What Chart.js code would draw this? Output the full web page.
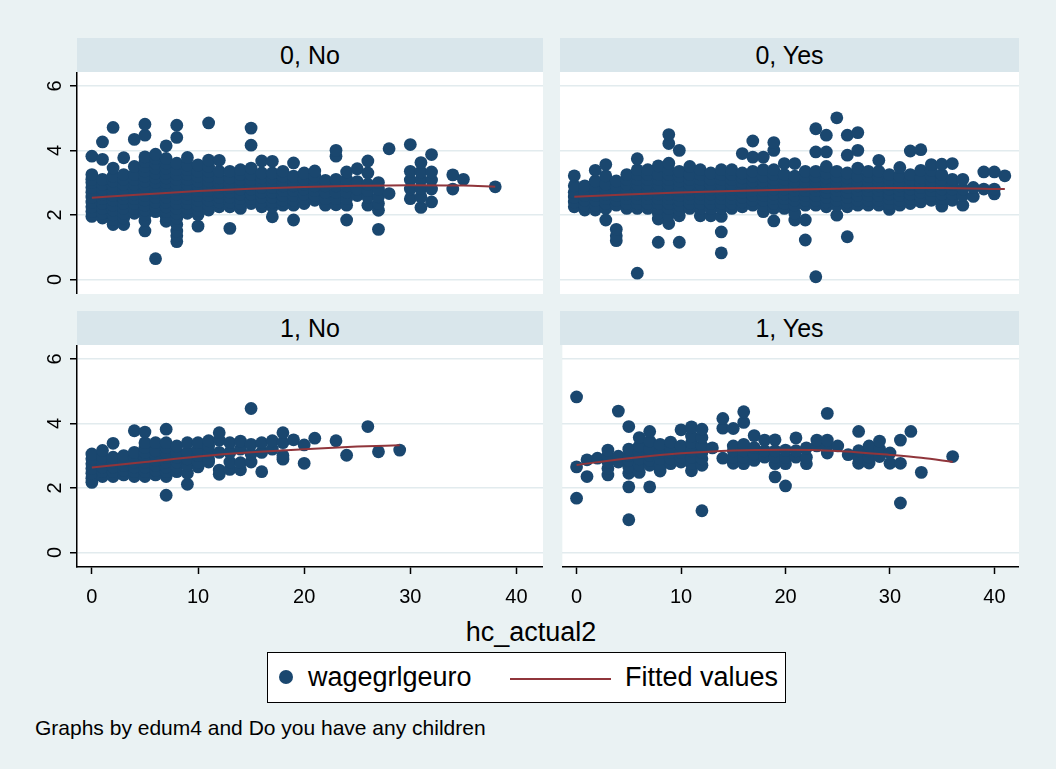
<!DOCTYPE html>
<html><head><meta charset="utf-8">
<script src="https://cdn.jsdelivr.net/npm/chart.js@4.4.1/dist/chart.umd.min.js"></script>
<style>
html,body{margin:0;padding:0;}
body{width:1056px;height:769px;background:#EAF2F3;position:relative;overflow:hidden;font-family:"Liberation Sans",Arial,sans-serif;color:#000;}
.hdr{position:absolute;background:#D9E6EB;height:34px;line-height:34px;text-align:center;font-size:25px;}
.cv{position:absolute;}
#xtitle{position:absolute;left:331px;width:400px;top:614px;text-align:center;font-size:27px;line-height:36px;}
#legend{position:absolute;left:267px;top:652px;width:517px;height:49px;background:#fff;border:1px solid #000;font-size:27px;}
#legend .dot{position:absolute;left:11px;top:17px;width:14px;height:14px;border-radius:50%;background:#1A476F;}
#legend .t1{position:absolute;left:40px;top:9px;line-height:30px;}
#legend .ln{position:absolute;left:242px;top:25px;width:101px;height:2px;background:#90353B;}
#legend .t2{position:absolute;left:357px;top:9px;line-height:30px;}
#note{position:absolute;left:35px;top:715px;font-size:21px;line-height:26px;}
</style>
</head><body>
<div class="hdr" style="left:77px;top:38px;width:466px;">0, No</div>
<div class="hdr" style="left:560px;top:38px;width:459px;">0, Yes</div>
<div class="hdr" style="left:77px;top:311px;width:466px;">1, No</div>
<div class="hdr" style="left:560px;top:311px;width:459px;">1, Yes</div>
<canvas id="c00" class="cv" width="543" height="222" style="left:0;top:72px;"></canvas>
<canvas id="c01" class="cv" width="459" height="222" style="left:560px;top:72px;"></canvas>
<canvas id="c10" class="cv" width="543" height="267" style="left:0;top:345px;"></canvas>
<canvas id="c11" class="cv" width="459" height="267" style="left:560px;top:345px;"></canvas>
<div id="xtitle">hc_actual2</div>
<div id="legend"><div class="dot"></div><div class="t1">wagegrlgeuro</div><div class="ln"></div><div class="t2">Fitted values</div></div>
<div id="note">Graphs by edum4 and Do you have any children</div>
<script>
// Tick values
const yTicks = [0, 2, 4, 6];
const xTicks = [0, 10, 20, 30, 40];
const panelTitles = ["0, No", "0, Yes", "1, No", "1, Yes"];
const legendLabels = ["wagegrlgeuro", "Fitted values"];

// Scatter data: each row = [hc_actual2, wagegrlgeuro values...]
const edu0No = [
 [0,1.95,2.1,2.25,2.4,2.55,2.7,2.85,3.0,3.1,3.25,3.82],
 [1,1.9,2.05,2.2,2.35,2.5,2.65,2.8,2.95,3.1,3.72,4.26],
 [2,1.7,1.85,2.0,2.15,2.3,2.45,2.6,2.75,2.9,3.05,3.2,3.45,4.71],
 [3,1.7,1.9,2.05,2.2,2.35,2.5,2.65,2.8,2.95,3.1,3.25,3.77],
 [4,2.05,2.2,2.35,2.5,2.65,2.8,2.95,3.1,3.25,3.5,4.34],
 [5,1.5,1.82,2.0,2.15,2.3,2.45,2.6,2.75,2.9,3.05,3.2,3.35,3.5,3.65,3.8,4.47,4.81],
 [6,0.64,2.1,2.25,2.4,2.55,2.7,2.85,3.0,3.15,3.3,3.45,3.6,3.75,3.88],
 [7,1.8,1.95,2.1,2.25,2.4,2.55,2.7,2.85,3.0,3.15,3.3,3.45,3.6,3.75,4.14],
 [8,1.17,1.35,1.5,1.7,1.9,2.05,2.2,2.35,2.5,2.65,2.8,2.95,3.1,3.25,3.4,3.6,4.4,4.78],
 [9,2.05,2.2,2.35,2.5,2.65,2.8,2.95,3.1,3.25,3.4,3.55,3.78],
 [10,1.65,2.0,2.15,2.3,2.45,2.6,2.75,2.9,3.05,3.2,3.35,3.55],
 [11,2.15,2.3,2.45,2.6,2.75,2.9,3.05,3.2,3.35,3.5,3.7,4.85],
 [12,2.25,2.4,2.55,2.7,2.85,3.0,3.15,3.35,3.69],
 [13,1.58,2.25,2.4,2.55,2.7,2.85,3.0,3.15,3.35],
 [14,2.2,2.35,2.5,2.65,2.8,2.95,3.1,3.25,3.4],
 [15,2.35,2.5,2.65,2.8,2.95,3.1,3.25,3.45,4.16,4.69],
 [16,2.25,2.4,2.55,2.7,2.85,3.0,3.15,3.3,3.67],
 [17,1.94,2.25,2.4,2.55,2.7,2.85,3.0,3.15,3.3,3.66],
 [18,2.3,2.45,2.6,2.75,2.9,3.05,3.2,3.35],
 [19,1.84,2.3,2.45,2.6,2.75,2.9,3.05,3.2,3.61],
 [20,2.35,2.5,2.65,2.8,2.95,3.1,3.3],
 [21,2.45,2.6,2.75,2.9,3.05,3.2,3.36],
 [22,2.3,2.5,2.7,2.9,3.07],
 [23,2.31,2.5,2.7,2.9,3.1,3.82,4.0],
 [24,1.84,2.3,2.5,2.7,2.9,3.1,3.33],
 [25,2.6,2.8,3.03,3.43],
 [26,2.3,2.55,2.75,2.95,3.3,3.67],
 [27,1.55,2.14,2.35,2.56,2.8,3.0],
 [28,2.66,4.05],
 [30,2.5,2.8,3.08,3.35,4.18],
 [31,2.23,2.56,2.82,3.08,3.33,3.62],
 [32,2.4,2.8,3.08,3.33,3.87],
 [34,2.8,3.24],
 [35,3.1],
 [38,2.87]
];
const edu0Yes = [
 [0,2.25,2.4,2.55,2.7,2.9,3.21],
 [1,2.15,2.3,2.45,2.6,2.75,2.9],
 [2,2.15,2.3,2.45,2.6,2.75,2.9,3.05,3.38],
 [3,1.84,2.2,2.35,2.5,2.65,2.8,2.95,3.21,3.56],
 [4,1.2,1.35,1.55,2.3,2.45,2.6,2.75,2.9,3.05],
 [5,2.2,2.35,2.5,2.65,2.8,2.95,3.1,3.25],
 [6,0.19,2.2,2.35,2.5,2.65,2.8,2.95,3.1,3.25,3.4,3.74],
 [7,2.2,2.35,2.5,2.65,2.8,2.95,3.1,3.25,3.4],
 [8,1.15,1.87,2.05,2.2,2.35,2.5,2.65,2.8,2.95,3.1,3.25,3.52],
 [9,1.73,2.0,2.2,2.35,2.5,2.65,2.8,2.95,3.1,3.25,3.4,3.6,4.21,4.49],
 [10,1.15,1.97,2.15,2.3,2.45,2.6,2.75,2.9,3.05,3.2,3.35,4.0],
 [11,2.2,2.35,2.5,2.65,2.8,2.95,3.1,3.25,3.5],
 [12,1.97,2.2,2.35,2.5,2.65,2.8,2.95,3.1,3.25,3.4],
 [13,1.97,2.2,2.35,2.5,2.65,2.8,2.95,3.1,3.3],
 [14,0.82,1.47,1.95,2.2,2.35,2.5,2.65,2.8,2.95,3.1,3.25,3.4],
 [15,2.2,2.35,2.5,2.65,2.8,2.95,3.1,3.25,3.4],
 [16,2.25,2.4,2.55,2.7,2.85,3.0,3.15,3.3,3.9],
 [17,2.3,2.45,2.6,2.75,2.9,3.05,3.2,3.35,3.79,4.29],
 [18,2.1,2.3,2.45,2.6,2.75,2.9,3.05,3.2,3.4,3.79],
 [19,1.81,2.2,2.35,2.5,2.65,2.8,2.95,3.1,3.25,3.4,4.0,4.24],
 [20,2.2,2.35,2.5,2.65,2.8,2.95,3.1,3.25,3.59],
 [21,1.84,2.05,2.3,2.45,2.6,2.75,2.9,3.05,3.2,3.59],
 [22,1.22,1.84,2.3,2.45,2.6,2.75,2.9,3.05,3.2,3.35],
 [23,0.08,2.3,2.45,2.6,2.75,2.9,3.05,3.2,3.35,3.95,4.67],
 [24,2.25,2.4,2.55,2.7,2.85,3.0,3.15,3.3,3.5,3.95,4.47],
 [25,1.99,2.3,2.45,2.6,2.75,2.9,3.05,3.2,3.35,5.01],
 [26,1.32,2.25,2.4,2.55,2.7,2.85,3.0,3.15,3.3,3.85,4.47],
 [27,2.3,2.45,2.6,2.75,2.9,3.05,3.2,3.45,4.0,4.55],
 [28,2.3,2.45,2.6,2.75,2.9,3.05,3.2,3.35],
 [29,2.3,2.45,2.6,2.75,2.9,3.05,3.2,3.35,3.69],
 [30,2.17,2.35,2.5,2.65,2.8,2.95,3.1,3.25],
 [31,2.3,2.45,2.6,2.75,2.9,3.05,3.2,3.47],
 [32,2.35,2.5,2.65,2.8,2.95,3.1,3.25,3.98],
 [33,2.4,2.55,2.7,2.85,3.0,3.15,3.38,4.02],
 [34,2.45,2.6,2.75,2.9,3.05,3.2,3.38,3.56],
 [35,2.27,2.5,2.65,2.8,2.95,3.1,3.25,3.57],
 [36,2.45,2.65,2.8,2.95,3.1,3.59],
 [37,2.3,2.6,2.8,3.1],
 [38,2.57,2.85],
 [39,2.8,3.33],
 [40,2.65,2.8,3.33],
 [41,3.21]
];
const edu1No = [
 [0,2.17,2.3,2.45,2.6,2.75,2.9,3.05],
 [1,2.35,2.5,2.65,2.8,2.95,3.16],
 [2,2.35,2.5,2.65,2.8,2.95,3.38],
 [3,2.4,2.55,2.7,2.85,3.0],
 [4,2.35,2.5,2.65,2.8,2.95,3.1,3.77],
 [5,2.35,2.5,2.65,2.8,2.95,3.1,3.25,3.4,3.73],
 [6,2.4,2.55,2.7,2.85,3.0,3.15,3.4],
 [7,1.77,2.35,2.5,2.65,2.8,2.95,3.1,3.25,3.4,3.82],
 [8,2.5,2.65,2.8,2.95,3.1,3.3],
 [9,2.11,2.45,2.7,2.9,3.1,3.4],
 [10,2.65,2.8,3.0,3.2,3.4],
 [11,2.8,2.9,3.1,3.3,3.46],
 [12,2.42,2.55,3.1,3.48,3.71],
 [13,2.57,2.8,3.1,3.4],
 [14,2.56,2.78,3.2,3.45],
 [15,2.8,3.05,3.35,4.46],
 [16,2.5,3.1,3.4],
 [17,3.2,3.46],
 [18,2.89,3.0,3.4,3.71],
 [19,3.49],
 [20,2.76,3.33],
 [21,3.54],
 [23,3.46],
 [24,3.01],
 [26,3.9],
 [27,3.12],
 [29,3.17]
];
const edu1Yes = [
 [0,1.68,2.65,4.82],
 [1,2.35,2.87],
 [2,2.92],
 [3,2.4,2.6,2.8,3.0,3.17],
 [4,2.8,2.98,4.38],
 [5,1.01,2.03,2.45,2.65,2.85,3.0,3.2,3.9],
 [6,2.48,2.7,2.9,3.1,3.3,3.56],
 [7,2.03,2.7,2.85,3.0,3.2,3.45,3.75],
 [8,2.52,2.7,2.9,3.1,3.35],
 [9,2.75,2.9,3.1,3.25,3.42],
 [10,2.8,2.95,3.1,3.3,3.8],
 [11,2.53,2.75,2.95,3.15,3.4,3.61,3.89],
 [12,1.29,2.7,2.9,3.1,3.3,3.56,3.82],
 [13,3.24],
 [14,2.92,3.85,4.15],
 [15,2.76,2.95,3.15,3.3,3.84],
 [16,2.75,2.95,3.15,3.35,4.03,4.36],
 [17,2.85,3.05,3.25,3.62],
 [18,2.95,3.15,3.48],
 [19,2.34,2.75,2.95,3.15,3.49],
 [20,2.06,2.75,2.95,3.17],
 [21,2.95,3.15,3.55],
 [22,2.75,2.95,3.24],
 [23,3.3,3.48],
 [24,3.08,3.3,3.48,4.31],
 [25,3.3],
 [26,3.03],
 [27,2.76,2.95,3.15,3.75],
 [28,2.77,2.95,3.15,3.3],
 [29,2.97,3.2,3.45],
 [30,2.76,3.08],
 [31,1.53,2.76,3.48],
 [32,3.75],
 [33,2.48],
 [36,2.97]
];

// Fitted values
const fit0No  = [[0,2.53],[5,2.64],[10,2.74],[15,2.81],[20,2.86],[25,2.9],[30,2.92],[35,2.91],[38,2.87]];
const fit0Yes = [[0,2.56],[5,2.63],[10,2.69],[15,2.74],[20,2.78],[25,2.81],[30,2.83],[35,2.83],[41,2.8]];
const fit1No  = [[0,2.63],[5,2.8],[10,2.97],[15,3.1],[20,3.2],[25,3.28],[29,3.32]];
const fit1Yes = [[0,2.71],[5,2.92],[10,3.07],[15,3.16],[20,3.18],[25,3.14],[30,3.02],[33,2.93],[36,2.8]];

const MARKER = '#1A476F', FITC = '#90353B', GRID = '#E2EBEE';

function toPoints(cols){
  const out = [];
  cols.forEach(c => { for (let i = 1; i < c.length; i++) out.push({x: c[0], y: c[i]}); });
  return out;
}
function toXY(arr){ return arr.map(p => ({x: p[0], y: p[1]})); }

const whiteArea = {
  id: 'whiteArea',
  beforeDraw(chart){
    const a = chart.chartArea, ctx = chart.ctx;
    ctx.save(); ctx.fillStyle = '#fff';
    ctx.fillRect(a.left, a.top, a.right - a.left, a.bottom - a.top);
    ctx.restore();
  }
};
const yLabels = {
  id: 'yLabels',
  afterDraw(chart){
    if (!chart.options.plugins.yLabels || !chart.options.plugins.yLabels.show) return;
    const s = chart.scales.y, ctx = chart.ctx;
    ctx.save();
    ctx.fillStyle = '#000';
    ctx.font = '20px "Liberation Sans", Arial, sans-serif';
    ctx.textAlign = 'center'; ctx.textBaseline = 'alphabetic';
    yTicks.forEach(v => {
      ctx.save();
      ctx.translate(61, s.getPixelForValue(v));
      ctx.rotate(-Math.PI/2);
      ctx.fillText(String(v), 0, 0);
      ctx.restore();
    });
    ctx.restore();
  }
};

function panel(id, cols, fit, xmin, xmax, showY, showX){
  new Chart(document.getElementById(id), {
    type: 'scatter',
    data: { datasets: [
      { type:'line', data: toXY(fit), borderColor: FITC, borderWidth: 2, pointRadius: 0,
        cubicInterpolationMode: 'monotone', fill: false, order: 0 },
      { type:'scatter', data: toPoints(cols), backgroundColor: MARKER, borderColor: MARKER,
        borderWidth: 0, pointRadius: 6.4, order: 1, clip: false }
    ]},
    options: {
      responsive: false, animation: false, events: [],
      layout: { padding: 0, autoPadding: false },
      plugins: { legend: {display:false}, tooltip: {enabled:false}, yLabels: {show: showY} },
      scales: {
        x: {
          type: 'linear', min: xmin, max: xmax, display: showX,
          afterBuildTicks: s => { s.ticks = xTicks.map(v => ({value: v})); },
          afterFit: s => { s.height = showX ? 45 : 0; },
          grid: { drawOnChartArea: false, drawTicks: true, tickLength: 7, tickColor: '#000', tickWidth: 1.5 },
          border: { display: true, color: '#000', width: 1.5 },
          ticks: { color: '#000', padding: 11, maxRotation: 0, font: { family: '"Liberation Sans", Arial, sans-serif', size: 20 } }
        },
        y: {
          type: 'linear', min: -0.455, max: 6.43, display: true,
          afterBuildTicks: s => { s.ticks = yTicks.map(v => ({value: v})); },
          afterFit: s => { s.width = showY ? 77 : 0; },
          grid: { color: GRID, lineWidth: 1.5, drawTicks: showY, tickLength: 7, tickColor: '#000', tickWidth: 1.5 },
          border: { display: showY, color: '#000', width: 1.5 },
          ticks: { display: false }
        }
      }
    },
    plugins: [whiteArea, yLabels]
  });
}

panel('c00', edu0No, fit0No, -1.4, 42.5, true, false);
panel('c01', edu0Yes, fit0Yes, -1.36, 42.35, false, false);
panel('c10', edu1No, fit1No, -1.4, 42.5, true, true);
panel('c11', edu1Yes, fit1Yes, -1.36, 42.35, false, true);
</script>
</body></html>
